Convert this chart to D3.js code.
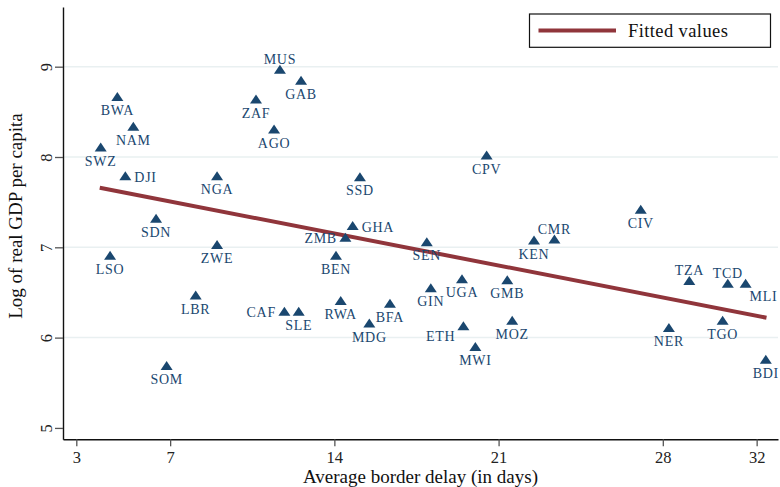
<!DOCTYPE html>
<html>
<head>
<meta charset="utf-8">
<script src="https://cdn.jsdelivr.net/npm/d3@7"></script>
<style>
  html, body { margin: 0; padding: 0; background: #fff; }
  svg { display: block; font-family: "Liberation Serif", "Times New Roman", serif; }
</style>
</head>
<body>
<svg id="chart" width="780" height="487"></svg>
<script>
// ---- data ----
const countries = ["BWA","NAM","SWZ","DJI","NGA","SDN","ZAF","MUS","GAB","AGO","CPV","SSD","GHA","ZMB","SEN","CIV","CMR","KEN","LSO","ZWE","LBR","SOM","BEN","CAF","SLE","RWA","BFA","MDG","GIN","UGA","ETH","MWI","GMB","MOZ","TZA","TCD","MLI","NER","TGO","BDI"];
const borderDelay = [4.75,5.43,4.04,5.09,9.0,6.40,10.66,11.68,12.58,11.43,20.49,15.09,14.78,14.47,17.94,27.06,23.38,22.51,4.44,9.0,8.09,6.85,14.07,11.87,12.48,14.27,16.37,15.49,18.11,19.44,19.50,20.01,21.37,21.58,29.13,30.77,31.53,28.26,30.55,32.39];
const logGdp = [8.67,8.34,8.11,7.79,7.79,7.32,8.64,8.97,8.85,8.31,8.02,7.78,7.24,7.11,7.06,7.42,7.09,7.08,6.91,7.03,6.47,5.69,6.91,6.29,6.29,6.41,6.38,6.16,6.55,6.65,6.13,5.90,6.64,6.19,6.63,6.60,6.60,6.11,6.19,5.76];
const labelPos = ["s","s","s","e","s","s","s","n","s","s","s","s","e","w","s","s","n","s","s","s","s","s","s","w","s","s","s","s","s","s","sw","s","s","s","n","n","se","s","s","s"];
const fittedX = [4.0, 32.42];
const fittedY = [7.66, 6.22];
const xTicks = [3, 7, 14, 21, 28, 32];
const yTicks = [5, 6, 7, 8, 9];
const gridTicks = [6, 7, 8, 9];
const legendLabel = "Fitted values";
const xTitle = "Average border delay (in days)";
const yTitle = "Log of real GDP per capita";

// ---- layout ----
const pL = 63, pR = 778, pT = 7, pB = 439.3;
const x = d3.scaleLinear().domain([2.433, 32.91]).range([pL, pR]);
const y = d3.scaleLinear().domain([4.874, 9.661]).range([pB, pT]);

const navy = "#1a476f";
const maroon = "#90353b";
const serif = "'Liberation Serif', 'Times New Roman', serif";

const svg = d3.select("#chart");

// gridlines
svg.append("g").selectAll("line").data(gridTicks).join("line")
  .attr("x1", pL).attr("x2", pR)
  .attr("y1", d => y(d)).attr("y2", d => y(d))
  .attr("stroke", "#e9f0f1").attr("stroke-width", 1.5);

// axes
const xAxis = svg.append("g").attr("transform", `translate(0,${pB})`)
  .call(d3.axisBottom(x).tickValues(xTicks).tickSize(7).tickSizeOuter(0).tickPadding(5).tickFormat(d3.format("d")));
const yAxis = svg.append("g").attr("transform", `translate(${pL},0)`)
  .call(d3.axisLeft(y).tickValues(yTicks).tickSize(8).tickSizeOuter(0).tickFormat(d3.format("d")));

[xAxis, yAxis].forEach(g => {
  g.attr("font-family", serif).attr("font-size", 16.5);
  g.select(".domain").attr("stroke", "#111").attr("stroke-width", 1.4);
  g.selectAll(".tick line").attr("stroke", "#555").attr("stroke-width", 1.3);
  g.selectAll(".tick text").style("font-family", serif).attr("fill", "#222");
});
yAxis.selectAll(".tick text")
  .attr("x", null).attr("dy", null)
  .attr("text-anchor", "middle")
  .attr("transform", "translate(-17,0) rotate(-90)")
  .attr("dy", "0.35em");

// axis titles
svg.append("text").attr("x", 420.5).attr("y", 482.5).attr("text-anchor", "middle")
  .attr("font-size", 19).attr("fill", "#111").text(xTitle);
svg.append("text").attr("transform", "translate(22,216) rotate(-90)").attr("text-anchor", "middle")
  .attr("font-size", 19).attr("fill", "#111").text(yTitle);

// fitted line
svg.append("path")
  .datum(d3.zip(fittedX, fittedY))
  .attr("d", d3.line().x(d => x(d[0])).y(d => y(d[1])))
  .attr("stroke", maroon).attr("stroke-width", 4).attr("fill", "none");

// markers
const pts = countries.map((c, i) => ({ c, dx: borderDelay[i], gy: logGdp[i], pos: labelPos[i] }));
const tri = "M0,-4.6L6,4.4L-6,4.4Z";
svg.append("g").selectAll("path").data(pts).join("path")
  .attr("d", tri)
  .attr("transform", d => `translate(${x(d.dx)},${y(d.gy)})`)
  .attr("fill", navy);

// labels
const off = {
  s: { dx: 0, dy: 18.5, a: "middle" },
  n: { dx: 0, dy: -5.4, a: "middle" },
  e: { dx: 9, dy: 6.3, a: "start" },
  w: { dx: -8.5, dy: 6, a: "end" },
  se: { dx: 4, dy: 18, a: "start" },
  sw: { dx: -8, dy: 15, a: "end" }
};
svg.append("g").selectAll("text").data(pts).join("text")
  .attr("x", d => x(d.dx) + off[d.pos].dx)
  .attr("y", d => y(d.gy) + off[d.pos].dy)
  .attr("text-anchor", d => off[d.pos].a)
  .attr("font-size", 14).attr("letter-spacing", 0.7)
  .attr("fill", navy)
  .text(d => d.c);

// legend
const lg = svg.append("g");
lg.append("rect").attr("x", 529.5).attr("y", 14).attr("width", 241).attr("height", 33.3)
  .attr("fill", "#fff").attr("stroke", "#111").attr("stroke-width", 1.2);
lg.append("line").attr("x1", 538.5).attr("x2", 616).attr("y1", 30.5).attr("y2", 30.5)
  .attr("stroke", maroon).attr("stroke-width", 4);
lg.append("text").attr("x", 628).attr("y", 37.3).attr("font-size", 18.5).attr("letter-spacing", 0.4)
  .attr("fill", "#111").text(legendLabel);
</script>
</body>
</html>
